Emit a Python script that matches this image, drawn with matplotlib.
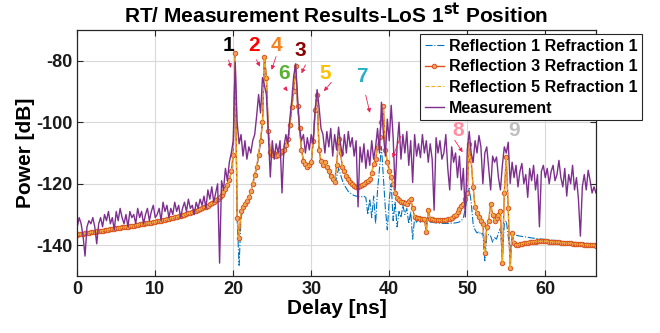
import numpy as np
import matplotlib
matplotlib.use('Agg')
import matplotlib.pyplot as plt


# Delay grid (ns), one sample every 0.25 ns
delay = np.arange(0, 66.51, 0.25)

# Reflection 3 Refraction 1 (dB), 16 samples per row = 4 ns
refl3_refr1 = [
    -136.5, -136.4, -136.3, -136.2, -136.1, -136.0, -135.9, -135.8, -135.7, -135.6, -135.5, -135.4, -135.3, -135.2, -135.1, -135.0,
    -134.9, -134.8, -134.7, -134.6, -134.5, -134.4, -134.3, -134.2, -134.1, -134.0, -133.9, -133.8, -133.7, -133.6, -133.4, -133.3,
    -133.2, -133.1, -133.0, -132.9, -132.8, -132.7, -132.6, -132.5, -132.4, -132.2, -132.1, -132.0, -131.8, -131.7, -131.5, -131.4,
    -131.2, -131.0, -130.9, -130.7, -130.5, -130.4, -130.2, -130.0, -129.8, -129.6, -129.4, -129.2, -129.0, -128.8, -128.5, -128.3,
    -128.0, -127.7, -127.4, -127.1, -126.7, -126.3, -125.9, -125.4, -124.9, -124.3, -123.6, -122.8, -121.8, -120.5, -118.8, -116.0,
    -110.5, -77.6, -131.0, -137.5, -129.0, -127.5, -126.5, -125.5, -124.3, -122.5, -120.0, -117.0, -114.6, -110.5, -106.0, -100.0,
    -78.7, -85.5, -102.7, -109.7, -110.5, -110.0, -111.0, -110.5, -110.0, -109.5, -109.0, -107.5, -105.5, -101.0, -95.0, -89.7,
    -81.6, -94.6, -102.0, -109.0, -112.5, -113.5, -114.5, -114.0, -113.0, -106.0, -96.0, -91.0, -109.0, -112.5, -114.0, -113.0,
    -114.5, -116.0, -117.5, -118.5, -119.5, -114.0, -105.3, -110.0, -114.6, -116.0, -117.5, -118.5, -119.5, -120.2, -120.7, -121.0,
    -121.0, -120.8, -120.5, -120.0, -119.5, -119.0, -118.5, -116.5, -113.5, -112.0, -108.0, -104.9, -100.0, -94.6, -109.0, -113.0,
    -115.7, -117.8, -120.0, -123.0, -124.5, -125.4, -125.8, -126.0, -126.3, -126.5, -125.5, -124.8, -128.0, -130.8, -131.0, -131.2,
    -131.3, -131.4, -131.5, -135.6, -128.5, -131.5, -131.6, -131.7, -131.8, -131.8, -131.9, -131.9, -131.9, -131.8, -131.6, -131.3,
    -131.0, -130.6, -130.0, -129.2, -128.3, -127.3, -126.5, -125.0, -123.0, -107.0, -112.4, -121.0, -127.7, -129.5, -130.8, -132.0,
    -133.0, -142.6, -134.0, -132.0, -126.5, -130.0, -132.0, -131.0, -130.0, -129.0, -145.8, -123.0, -111.3, -128.0, -147.5, -136.0,
    -139.4, -139.8, -139.8, -139.6, -139.5, -139.3, -139.2, -139.1, -139.0, -138.9, -138.8, -138.8, -138.7, -138.7, -138.7, -138.7,
    -138.7, -138.7, -138.8, -138.8, -138.9, -138.9, -139.0, -139.0, -139.1, -139.1, -139.2, -139.3, -139.3, -139.4, -139.5, -139.5,
    -139.6, -139.6, -139.7, -139.7, -139.8, -139.8, -139.9, -139.9, -140.0, -140.0, -140.1,
]

# Reflection 1 Refraction 1 (dB)
refl1_refr1 = [
    -136.5, -136.4, -136.3, -136.2, -136.1, -136.0, -135.9, -135.8, -135.7, -135.6, -135.5, -135.4, -135.3, -135.2, -135.1, -135.0,
    -134.9, -134.8, -134.7, -134.6, -134.5, -134.4, -134.3, -134.2, -134.1, -134.0, -133.9, -133.8, -133.7, -133.6, -133.4, -133.3,
    -133.2, -133.1, -133.0, -132.9, -132.8, -132.7, -132.6, -132.5, -132.4, -132.2, -132.1, -132.0, -131.8, -131.7, -131.5, -131.4,
    -131.2, -131.0, -130.9, -130.7, -130.5, -130.4, -130.2, -130.0, -129.8, -129.6, -129.4, -129.2, -129.0, -128.8, -128.5, -128.3,
    -128.0, -127.7, -127.4, -127.1, -126.7, -126.3, -125.9, -125.4, -124.9, -124.3, -123.6, -122.8, -121.8, -120.5, -118.8, -116.0,
    -110.5, -77.6, -131.0, -146.5, -131.0, -128.5, -127.0, -125.8, -124.5, -122.8, -120.3, -117.5, -115.0, -111.0, -106.5, -100.5,
    -78.7, -85.5, -102.7, -109.7, -110.8, -110.5, -111.5, -111.0, -110.8, -110.5, -110.5, -109.0, -106.5, -102.0, -95.5, -89.7,
    -81.6, -94.6, -102.0, -109.0, -112.8, -114.0, -115.0, -114.5, -113.5, -106.0, -96.0, -91.0, -109.5, -113.0, -114.5, -113.5,
    -115.0, -116.5, -118.0, -119.0, -120.0, -118.0, -115.0, -117.0, -119.0, -120.5, -121.5, -122.5, -123.0, -123.5, -123.8, -124.0,
    -124.2, -124.2, -124.2, -124.0, -124.5, -130.0, -125.0, -131.0, -124.0, -133.0, -122.0, -115.0, -108.0, -118.0, -128.0, -135.0,
    -125.0, -120.0, -132.0, -126.0, -134.0, -129.0, -131.0, -127.0, -130.0, -128.0, -133.0, -129.0, -138.0, -131.0, -132.5, -131.0,
    -132.5, -131.5, -132.5, -133.0, -131.0, -132.5, -132.5, -132.6, -132.7, -132.8, -132.8, -132.9, -132.9, -132.9, -132.9, -132.9,
    -132.8, -132.8, -132.7, -132.6, -132.4, -132.0, -131.0, -128.0, -124.0, -121.5, -126.0, -133.0, -135.0, -136.0, -135.5, -136.5,
    -136.0, -145.0, -137.0, -136.5, -137.0, -139.0, -137.5, -138.0, -136.0, -134.5, -144.0, -133.0, -132.0, -137.0, -143.0, -136.0,
    -136.5, -136.7, -136.9, -137.0, -137.1, -137.2, -137.3, -137.4, -137.5, -137.6, -137.7, -137.8, -137.8, -137.9, -138.0, -138.0,
    -138.1, -138.2, -138.2, -138.3, -138.4, -138.4, -138.5, -138.6, -138.6, -138.7, -138.8, -138.8, -138.9, -138.9, -139.0, -139.0,
    -139.1, -139.1, -139.2, -139.2, -139.3, -139.3, -139.4, -139.4, -139.5, -139.5, -139.6,
]

# Reflection 5 Refraction 1 lies on top of Reflection 3 in the picture
refl5_refr1 = list(refl3_refr1)

# Measurement (dB)
measurement = [
    -134, -131, -133, -137, -143.5, -134, -132, -133, -131, -134, -139.5, -133, -131, -134, -130, -132,
    -129, -133, -131, -135, -129, -132, -128, -131, -133, -130, -134, -129, -131, -130, -133, -128,
    -131, -129, -133, -130, -128, -132, -129, -127, -131, -130, -128, -132, -126, -129, -127, -131,
    -128, -130, -126, -129, -127, -131, -128, -126, -129, -125, -128, -127, -130, -126, -128, -125,
    -127, -124, -128, -122, -125, -121, -126, -123, -120, -145.8, -119, -122, -115, -119, -113, -110,
    -106, -80.5, -100, -107, -104, -111, -106, -112, -108, -110, -106, -104, -98, -91, -97, -85.5,
    -88, -91, -104, -117.8, -106, -112, -107, -110, -106, -123, -108, -104, -107, -99, -93, -85,
    -81, -92, -102, -106, -104, -110, -105, -109, -104, -107, -96, -89.4, -95, -102, -104, -110,
    -103, -108, -102, -111, -104, -109, -101.6, -107, -111, -104, -110, -103, -108, -105, -111, -106,
    -127.5, -108, -113, -107, -115, -109, -114, -106, -112, -108, -102, -110, -93.5, -104, -111, -99,
    -106, -94.5, -105, -122, -108, -100, -112, -104, -110, -103, -114, -106, -119.6, -104, -111, -107,
    -111.5, -104, -110, -106, -113, -107, -112, -128.6, -105, -110, -106, -112, -110, -104, -115, -122,
    -108, -113, -110, -118, -111, -122, -115, -130.8, -109, -103, -110, -113, -106, -110, -104.3, -108,
    -120, -110, -108, -115, -122, -111, -113, -111.3, -118, -122, -114, -108, -110, -106.5, -119.9, -113,
    -118, -114, -121, -116, -113.4, -120, -117, -124.4, -115, -119, -114, -122, -117, -134, -116, -114,
    -118, -115, -120, -116, -114, -119, -117, -112.4, -118, -121, -115, -124, -117, -120, -114, -122,
    -118, -125, -137, -121, -117, -122, -115.6, -119, -123, -121, -123,
]

# Path labels: text, colour, label position, arrow start, arrow tip
peak_labels = ['1', '2', '4', '3', '6', '5', '7', '8', '9']
peak_colors = ['black', '#ff0000', '#f5821f', '#8b0000', '#5ab031', '#ffc000', '#2ab0c5', '#ff8fa3', '#bfbfbf']
label_t = [19.4, 22.7, 25.5, 28.6, 26.5, 31.8, 36.5, 48.8, 56.0]
label_p = [-75.0, -75.0, -75.0, -76.8, -84.0, -84.0, -85.2, -102.7, -102.7]
arrows = [
    ((19.3, -78.9), (19.8, -83.2)),
    ((22.8, -78.9), (23.6, -82.7)),
    ((25.6, -77.8), (24.8, -83.8)),
    ((29.4, -80.5), (28.6, -84.9)),
    ((26.4, -88.1), (27.2, -90.6)),
    ((32.8, -86.3), (31.4, -90.6)),
    ((36.9, -90.3), (37.6, -97.8)),
    ((48.2, -105.1), (49.6, -110.5)),
    ((41.6, -103.7), (40.3, -112.4)),
]

plt.rcParams['font.family'] = ['Liberation Sans', 'DejaVu Sans']
plt.rcParams['font.weight'] = 'bold'
plt.rcParams['axes.unicode_minus'] = False  # tick labels use a plain hyphen

fig = plt.figure(figsize=(6.6, 3.33), dpi=100)
ax = fig.add_axes([0.117, 0.171, 0.786, 0.739])

ax.plot(delay, refl1_refr1, color='#0072BD', linestyle='-.', linewidth=0.8,
        label='Reflection 1 Refraction 1')
ax.plot(delay, refl3_refr1, color='#D95319', linestyle='-', linewidth=1.0,
        marker='o', markersize=3.2, markerfacecolor='#f0a070', markeredgewidth=0.7,
        label='Reflection 3 Refraction 1')
ax.plot(delay, refl5_refr1, color='#EDB120', linestyle='--', linewidth=0.8,
        label='Reflection 5 Refraction 1')
ax.plot(delay, measurement, color='#7E2F8E', linestyle='-', linewidth=1.0,
        label='Measurement')

# numbered paths with their arrows
for i in range(len(peak_labels)):
    ax.text(label_t[i], label_p[i], peak_labels[i], color=peak_colors[i],
            fontsize=15, fontweight='bold', ha='center', va='center')
for start, tip in arrows:
    ax.annotate('', xy=tip, xytext=start,
                arrowprops=dict(arrowstyle='-|>', color='#ee2255', lw=0.6,
                                mutation_scale=6))

ax.set_xlim(0, 66.5)
ax.set_ylim(-150, -70)
ax.set_xticks([0, 10, 20, 30, 40, 50, 60])
ax.set_yticks([-140, -120, -100, -80])
ax.grid(True, color='#d9d9d9', linewidth=0.8)
ax.set_axisbelow(True)
ax.tick_params(direction='in', top=True, right=True, labelsize=13, width=0.8, length=4,
               colors='#262626', labelcolor='#1a1a1a')
for s in ax.spines.values():
    s.set_color('#262626')
    s.set_linewidth(0.9)

ax.set_xlabel('Delay [ns]', fontsize=15, fontweight='bold', labelpad=1)
ax.set_ylabel('Power [dB]', fontsize=15, fontweight='bold', labelpad=1)
ax.set_title('RT/ Measurement Results-LoS 1$^{\\mathbf{st}}$ Position', fontsize=15, fontweight='bold', pad=5)

leg = ax.legend(loc='upper right', bbox_to_anchor=(0.973, 0.898), bbox_transform=fig.transFigure,
                fontsize=11.5, handlelength=1.2, handletextpad=0.3, borderpad=0.3, labelspacing=0.35,
                fancybox=False, framealpha=1, edgecolor='#262626', borderaxespad=0)
leg.get_frame().set_linewidth(0.8)
for t in leg.get_texts():
    t.set_fontweight('bold')

fig.savefig('out.png', dpi=100)
